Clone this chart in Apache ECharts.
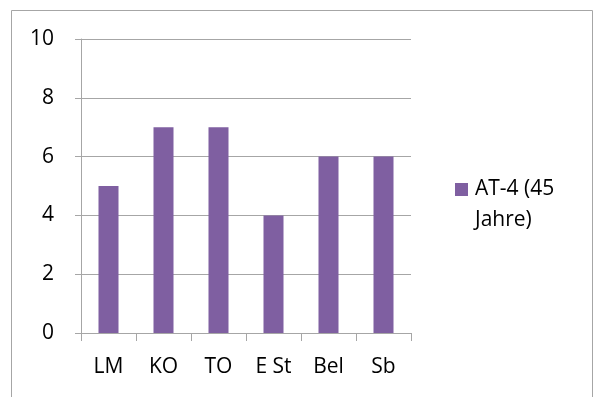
<!DOCTYPE html>
<html>
<head>
<meta charset="utf-8">
<script src="https://cdn.jsdelivr.net/npm/echarts@6/dist/echarts.min.js"></script>
<style>
  html, body { margin: 0; padding: 0; background: #fff; }
  #chart { width: 600px; height: 397px; }
</style>
</head>
<body>
<div id="chart"></div>
<script>
const categories = ["LM", "KO", "TO", "E St", "Bel", "Sb"];
const seriesName = "AT-4 (45 Jahre)";
const values = [5, 7, 7, 4, 6, 6];

const chart = echarts.init(document.getElementById("chart"));

const font = "'Open Sans', sans-serif";
const gray = "#A6A6A6";

chart.setOption({
  animation: false,
  textStyle: { fontFamily: font },
  graphic: [
    {
      // outer chart border
      type: "rect",
      shape: { x: 11.5, y: 10.5, width: 581, height: 420 },
      style: { fill: "none", stroke: gray, lineWidth: 1 }
    }
  ],
  grid: { left: 81, top: 39, width: 330, height: 294 },
  legend: {
    left: 455,
    top: 143,
    padding: 0,
    itemWidth: 13,
    itemHeight: 13,
    icon: "rect",
    // leading blank line keeps the first line level with the marker
    formatter: () => "\nAT-4 (45\nJahre)",
    textStyle: {
      fontFamily: font,
      fontSize: 21,
      color: "#000",
      lineHeight: 31,
      padding: [0, 0, 0, 2]
    }
  },
  xAxis: {
    type: "category",
    data: categories,
    axisLine: { lineStyle: { color: gray } },
    axisTick: { show: true, length: 8, lineStyle: { color: gray } },
    axisLabel: { color: "#000", fontSize: 21, margin: 24, fontFamily: font },
    splitLine: { show: false }
  },
  yAxis: {
    type: "value",
    min: 0,
    max: 10,
    interval: 2,
    axisLine: { show: true, lineStyle: { color: gray } },
    axisTick: { show: true, length: 6, lineStyle: { color: gray } },
    axisLabel: { color: "#000", fontSize: 21, margin: 27, fontFamily: font },
    splitLine: { show: true, lineStyle: { color: gray } }
  },
  series: [
    {
      name: seriesName,
      type: "bar",
      data: values,
      barWidth: 20,
      itemStyle: { color: "#7F5FA1" }
    }
  ]
});
</script>
</body>
</html>
